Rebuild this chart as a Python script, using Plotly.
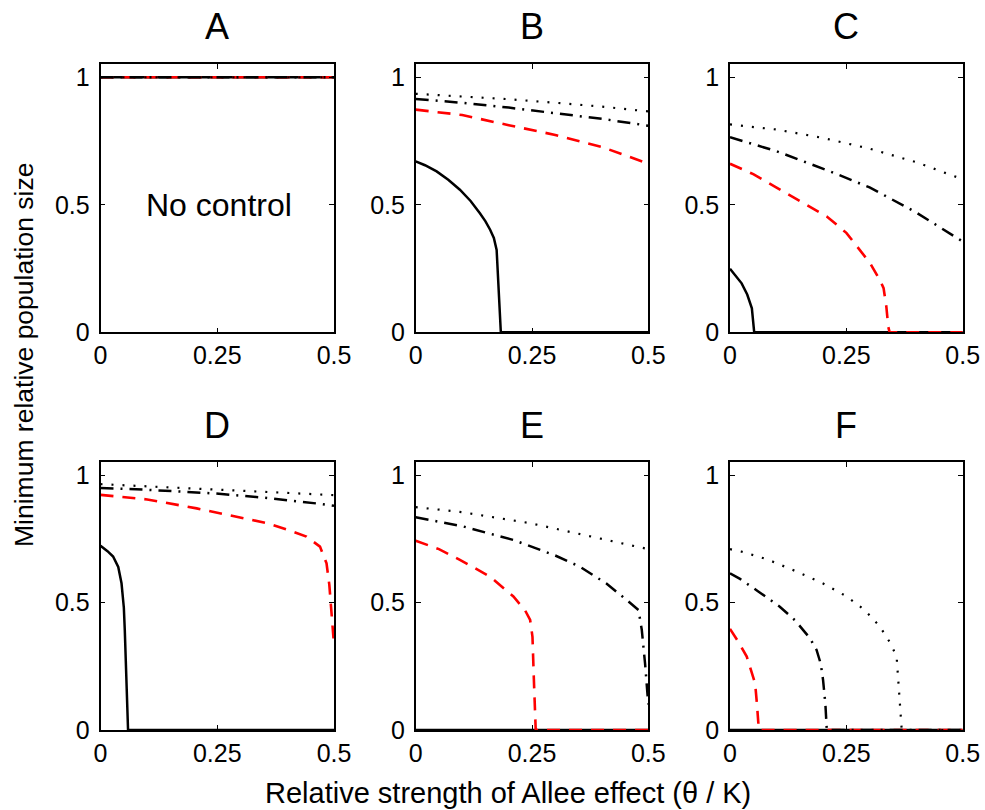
import plotly.graph_objects as go

# ---------------- data ----------------
# Panel A (no control): all four curves at 1
A_x = [0, 0.5]
A_solid_y = [1, 1]
A_red_y = [1, 1]
A_dashdot_y = [1, 1]
A_dot_y = [1, 1]

# Panel B
B_solid_x = [0, 0.02, 0.045, 0.07, 0.095, 0.118, 0.138, 0.15, 0.16, 0.168, 0.174, 0.183, 0.5]
B_solid_y = [0.67, 0.655, 0.631, 0.598, 0.559, 0.515, 0.467, 0.435, 0.402, 0.37, 0.323, 0.0, 0.0]
B_red_x = [0, 0.1, 0.2, 0.3, 0.4, 0.5]
B_red_y = [0.873, 0.852, 0.812, 0.774, 0.727, 0.661]
B_dashdot_x = [0, 0.1, 0.2, 0.3, 0.4, 0.5]
B_dashdot_y = [0.915, 0.9, 0.881, 0.86, 0.837, 0.81]
B_dot_x = [0, 0.1, 0.2, 0.3, 0.4, 0.5]
B_dot_y = [0.935, 0.925, 0.914, 0.9, 0.885, 0.866]

# Panel C
C_solid_x = [0, 0.012, 0.025, 0.037, 0.047, 0.052, 0.5]
C_solid_y = [0.249, 0.222, 0.192, 0.148, 0.094, 0.0, 0.0]
C_red_x = [0, 0.05, 0.1, 0.15, 0.208, 0.25, 0.279, 0.301, 0.322, 0.33, 0.336, 0.34, 0.343, 0.5]
C_red_y = [0.661, 0.62, 0.567, 0.515, 0.454, 0.39, 0.323, 0.271, 0.205, 0.173, 0.1, 0.022, 0.0, 0.0]
C_dashdot_x = [0, 0.1, 0.215, 0.3, 0.4, 0.5]
C_dashdot_y = [0.765, 0.71, 0.631, 0.568, 0.47, 0.356]
C_dot_x = [0, 0.1, 0.2, 0.3, 0.4, 0.5]
C_dot_y = [0.815, 0.795, 0.762, 0.72, 0.667, 0.6]

# Panel D
D_solid_x = [0, 0.015, 0.027, 0.038, 0.045, 0.05, 0.052, 0.055, 0.059, 0.5]
D_solid_y = [0.723, 0.702, 0.681, 0.64, 0.576, 0.48, 0.393, 0.2, 0.0, 0.0]
D_red_x = [0, 0.1, 0.206, 0.3, 0.356, 0.41, 0.441, 0.47, 0.484, 0.49, 0.495, 0.5]
D_red_y = [0.923, 0.905, 0.87, 0.835, 0.812, 0.78, 0.759, 0.72, 0.654, 0.57, 0.458, 0.334]
D_dashdot_x = [0, 0.1, 0.241, 0.35, 0.474, 0.5]
D_dashdot_y = [0.95, 0.943, 0.929, 0.912, 0.887, 0.88]
D_dot_x = [0, 0.241, 0.5]
D_dot_y = [0.965, 0.943, 0.922]

# Panel E
E_solid_x = [0, 0.5]
E_solid_y = [0.0, 0.0]
E_red_x = [0, 0.05, 0.095, 0.16, 0.21, 0.235, 0.246, 0.251, 0.254, 0.256, 0.258, 0.5]
E_red_y = [0.743, 0.71, 0.668, 0.602, 0.524, 0.47, 0.432, 0.366, 0.2, 0.052, 0.0, 0.0]
E_dashdot_x = [0, 0.1, 0.21, 0.3, 0.353, 0.41, 0.453, 0.479, 0.486, 0.493, 0.5]
E_dashdot_y = [0.835, 0.8, 0.746, 0.685, 0.641, 0.575, 0.511, 0.471, 0.393, 0.262, 0.1]
E_dot_x = [0, 0.1, 0.246, 0.35, 0.486, 0.5]
E_dot_y = [0.875, 0.855, 0.812, 0.77, 0.717, 0.71]

# Panel F
F_solid_x = [0, 0.5]
F_solid_y = [0.0, 0.0]
F_red_x = [0, 0.02, 0.036, 0.048, 0.054, 0.058, 0.062, 0.5]
F_red_y = [0.397, 0.34, 0.288, 0.22, 0.183, 0.1, 0.0, 0.0]
F_dashdot_x = [0, 0.0215, 0.06, 0.107, 0.14, 0.172, 0.186, 0.195, 0.2, 0.205, 0.208, 0.5]
F_dashdot_y = [0.615, 0.593, 0.545, 0.484, 0.43, 0.36, 0.314, 0.26, 0.196, 0.1, 0.0, 0.0]
F_dot_x = [0, 0.025, 0.08, 0.143, 0.2, 0.251, 0.29, 0.322, 0.345, 0.358, 0.364, 0.367, 0.369, 0.5]
F_dot_y = [0.71, 0.7, 0.67, 0.622, 0.575, 0.524, 0.47, 0.406, 0.34, 0.288, 0.131, 0.052, 0.0, 0.0]

panel_titles = ["A", "B", "C", "D", "E", "F"]
x_tickvals = [0, 0.25, 0.5]
x_ticktext = ["0", "0.25", "0.5"]
y_tickvals = [0, 0.5, 1]
y_ticktext = ["0", "0.5", "1"]
x_title = "Relative strength of Allee effect (θ / K)"
y_title = "Minimum relative population size"
note_text = "No control"

panels = [
    dict(solid=(A_x, A_solid_y), red=(A_x, A_red_y), dashdot=(A_x, A_dashdot_y), dot=(A_x, A_dot_y)),
    dict(solid=(B_solid_x, B_solid_y), red=(B_red_x, B_red_y), dashdot=(B_dashdot_x, B_dashdot_y), dot=(B_dot_x, B_dot_y)),
    dict(solid=(C_solid_x, C_solid_y), red=(C_red_x, C_red_y), dashdot=(C_dashdot_x, C_dashdot_y), dot=(C_dot_x, C_dot_y)),
    dict(solid=(D_solid_x, D_solid_y), red=(D_red_x, D_red_y), dashdot=(D_dashdot_x, D_dashdot_y), dot=(D_dot_x, D_dot_y)),
    dict(solid=(E_solid_x, E_solid_y), red=(E_red_x, E_red_y), dashdot=(E_dashdot_x, E_dashdot_y), dot=(E_dot_x, E_dot_y)),
    dict(solid=(F_solid_x, F_solid_y), red=(F_red_x, F_red_y), dashdot=(F_dashdot_x, F_dashdot_y), dot=(F_dot_x, F_dot_y)),
]

# ---------------- layout geometry ----------------
W, H = 985, 810
col_px = [(100.5, 334.0), (415.7, 648.3), (730.0, 962.7)]
row_px = [(64.0, 332.3), (462.0, 730.0)]
FONT = "Liberation Sans, Arial, sans-serif"


def px(x):
    return x / W


def py(y):
    return 1 - y / H


styles = {
    "solid": dict(color="black", width=2.5, dash="solid"),
    "red": dict(color="#ff0000", width=2.6, dash="13px,9px"),
    "dashdot": dict(color="black", width=2.5, dash="13px,7px,2px,7px"),
    "dot": dict(color="black", width=2.2, dash="2px,9px"),
}

fig = go.Figure()
annotations = []
for i, p in enumerate(panels):
    r, c = divmod(i, 3)
    n = "" if i == 0 else str(i + 1)
    xa, ya = "x" + n, "y" + n
    for key in ["solid", "red", "dashdot", "dot"]:
        xs, ys = p[key]
        fig.add_trace(go.Scatter(x=xs, y=ys, mode="lines", line=styles[key],
                                 xaxis=xa, yaxis=ya, showlegend=False, hoverinfo="skip"))
    x0, x1 = col_px[c]
    y0, y1 = row_px[r]
    axcommon = dict(showline=True, linecolor="black", linewidth=1.6, mirror="ticks",
                    ticks="inside", ticklen=5, tickwidth=1, tickcolor="black",
                    showgrid=False, zeroline=False, fixedrange=True, automargin=False,
                    ticklabeloverflow="allow",
                    tickfont=dict(family=FONT, size=25, color="black"))
    fig.update_layout(**{
        "xaxis" + n: dict(domain=[px(x0), px(x1)], range=[0, 0.5], anchor=ya,
                          tickvals=x_tickvals, ticktext=x_ticktext, **axcommon),
        "yaxis" + n: dict(domain=[py(y1), py(y0)], range=[0, 1.052], anchor=xa,
                          tickvals=y_tickvals, ticktext=y_ticktext, ticklabelstandoff=4, **axcommon),
    })
    annotations.append(dict(text=panel_titles[i], xref="paper", yref="paper",
                            x=px((x0 + x1) / 2), y=py(y0 - 37),
                            showarrow=False, xanchor="center", yanchor="middle",
                            font=dict(family=FONT, size=36, color="black")))

annotations.append(dict(text=note_text, xref="x", yref="y", x=0.254, y=0.5,
                        showarrow=False, xanchor="center", yanchor="middle",
                        font=dict(family=FONT, size=32, color="black")))
annotations.append(dict(text=x_title, xref="paper", yref="paper",
                        x=px(508), y=py(793), showarrow=False,
                        xanchor="center", yanchor="middle",
                        font=dict(family=FONT, size=29, color="black")))
annotations.append(dict(text=y_title, xref="paper", yref="paper",
                        x=px(24), y=py(355), showarrow=False, textangle=-90,
                        xanchor="center", yanchor="middle",
                        font=dict(family=FONT, size=26.5, color="black")))

fig.update_layout(width=W, height=H, margin=dict(l=0, r=0, t=0, b=0),
                  paper_bgcolor="white", plot_bgcolor="white",
                  annotations=annotations)

# remove the browser's default 8px body margin so the 985x810 figure fills the window exactly
fig.write_html("out.html", config={"displayModeBar": False},
               post_script="document.body.style.margin='0px';document.body.style.overflow='hidden';")
